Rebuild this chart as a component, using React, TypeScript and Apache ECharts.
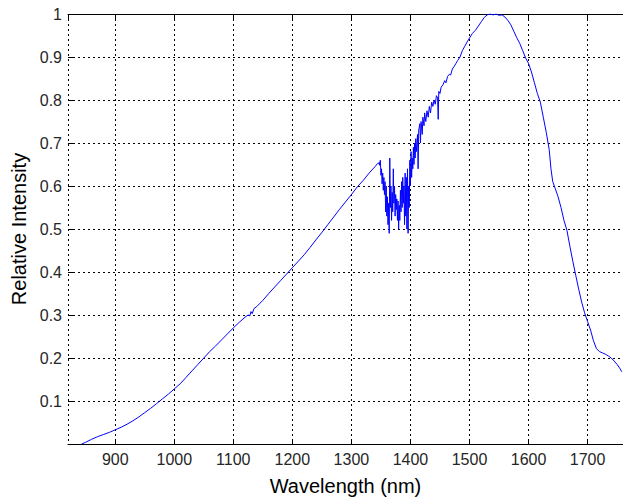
import React, { useEffect, useRef } from "react";
import * as echarts from "echarts";

const xAxisTitle = "Wavelength (nm)";
const yAxisTitle = "Relative Intensity";
const xRange = [820, 1760];
const yTickValues = [0.1, 0.2, 0.3, 0.4, 0.5, 0.6, 0.7, 0.8, 0.9, 1];

// smooth rising part
const wlRise = [843, 850, 860, 870, 880, 890, 900, 910, 920, 930, 940, 950, 960, 970, 980, 990, 1000, 1010, 1020, 1030, 1040, 1050, 1060, 1070, 1080, 1090, 1100, 1110, 1120, 1125, 1128, 1130, 1132, 1135, 1140, 1150, 1160, 1170, 1180, 1190, 1200, 1210, 1220, 1230, 1240, 1250, 1260, 1270, 1280, 1290, 1300, 1310, 1320, 1330, 1340, 1344];
const intRise = [0.0, 0.004, 0.011, 0.017, 0.022, 0.027, 0.033, 0.039, 0.046, 0.054, 0.063, 0.073, 0.083, 0.094, 0.105, 0.116, 0.128, 0.14, 0.155, 0.17, 0.185, 0.2, 0.215, 0.228, 0.242, 0.256, 0.27, 0.283, 0.295, 0.3, 0.298, 0.308, 0.303, 0.315, 0.32, 0.334, 0.35, 0.365, 0.38, 0.395, 0.41, 0.425, 0.44, 0.457, 0.475, 0.492, 0.51, 0.528, 0.546, 0.563, 0.58, 0.598, 0.613, 0.63, 0.645, 0.652];

// water absorption band (noisy)
const wlBand = [1346, 1347, 1348, 1349, 1350, 1351, 1352, 1353, 1354, 1355, 1356, 1357, 1358, 1359, 1360, 1361, 1362, 1363, 1364, 1365, 1366, 1367, 1368, 1369, 1370, 1371, 1372, 1373, 1374, 1375, 1376, 1377, 1378, 1379, 1380, 1381, 1382, 1383, 1384, 1385, 1386, 1387, 1388, 1389, 1390, 1391, 1392, 1393, 1394, 1395, 1396, 1397, 1398, 1399, 1400, 1401, 1402, 1403, 1404, 1405, 1406, 1407, 1408, 1409, 1410];
const intBand = [0.652, 0.655, 0.648, 0.66, 0.625, 0.64, 0.605, 0.63, 0.59, 0.62, 0.58, 0.61, 0.54, 0.6, 0.53, 0.575, 0.51, 0.56, 0.49, 0.665, 0.55, 0.6, 0.52, 0.585, 0.54, 0.64, 0.56, 0.6, 0.53, 0.58, 0.545, 0.57, 0.52, 0.565, 0.5, 0.555, 0.52, 0.59, 0.54, 0.61, 0.55, 0.62, 0.56, 0.6, 0.51, 0.63, 0.53, 0.62, 0.5, 0.64, 0.49, 0.6, 0.55, 0.66, 0.6, 0.68, 0.62, 0.665, 0.64, 0.69, 0.65, 0.7, 0.665, 0.71, 0.68];

// recovery towards the peak
const wlPeak = [1412, 1413, 1414, 1416, 1417, 1418, 1420, 1421, 1423, 1424, 1426, 1428, 1430, 1432, 1434, 1436, 1438, 1440, 1442, 1444, 1446, 1447, 1448, 1450, 1452, 1455, 1458, 1460, 1463, 1466, 1468, 1471, 1474, 1477, 1480, 1484, 1488, 1492, 1496, 1500, 1505, 1510, 1515, 1520, 1525, 1530, 1535, 1540, 1545, 1550, 1555, 1560];
const intPeak = [0.72, 0.64, 0.73, 0.745, 0.7, 0.75, 0.72, 0.76, 0.74, 0.77, 0.75, 0.775, 0.76, 0.785, 0.77, 0.795, 0.785, 0.8, 0.79, 0.81, 0.805, 0.755, 0.82, 0.815, 0.83, 0.835, 0.845, 0.84, 0.855, 0.86, 0.858, 0.872, 0.878, 0.885, 0.892, 0.9, 0.915, 0.925, 0.935, 0.944, 0.955, 0.962, 0.972, 0.982, 0.992, 0.998, 1.0, 0.998, 1.0, 0.997, 0.998, 0.993];

// falling part
const wlFall = [1565, 1570, 1575, 1580, 1585, 1590, 1595, 1600, 1605, 1610, 1615, 1620, 1625, 1630, 1635, 1638, 1641, 1645, 1650, 1655, 1660, 1665, 1670, 1675, 1680, 1685, 1690, 1695, 1700, 1705, 1710, 1715, 1720, 1725, 1730, 1735, 1740, 1745, 1750, 1755, 1758];
const intFall = [0.985, 0.975, 0.96, 0.945, 0.932, 0.915, 0.898, 0.885, 0.865, 0.84, 0.815, 0.795, 0.76, 0.725, 0.685, 0.64, 0.61, 0.595, 0.575, 0.55, 0.52, 0.497, 0.46, 0.425, 0.392, 0.36, 0.33, 0.305, 0.285, 0.265, 0.24, 0.222, 0.215, 0.212, 0.209, 0.205, 0.2, 0.193, 0.185, 0.175, 0.168];

const wavelength = [...wlRise, ...wlBand, ...wlPeak, ...wlFall];
const intensity = [...intRise, ...intBand, ...intPeak, ...intFall];

const FONT = "'Liberation Sans', Arial, sans-serif";
const DOT: number[] = [2, 3];

export default function App() {
  const ref = useRef<HTMLDivElement>(null);
  useEffect(() => {
    if (!ref.current) return;
    const chart = echarts.init(ref.current, undefined, { renderer: "svg" });
    const data = wavelength.map((w, i) => [w, intensity[i]]);
    chart.setOption({
      animation: false,
      backgroundColor: "#fff",
      grid: { left: 68, top: 14, right: 0, bottom: 54, containLabel: false },
      xAxis: [
        {
          type: "value",
          min: xRange[0],
          max: xRange[1],
          splitNumber: 9,
          position: "bottom",
          name: xAxisTitle,
          nameLocation: "middle",
          nameGap: 32,
          nameTextStyle: { fontFamily: FONT, fontSize: 20, color: "#000" },
          axisLine: { show: true, onZero: false, lineStyle: { color: "#000", width: 1 } },
          axisTick: { show: true, inside: true, length: 5, lineStyle: { color: "#000" } },
          axisLabel: {
            show: true,
            margin: 7,
            showMinLabel: false,
            showMaxLabel: false,
            fontFamily: FONT,
            fontSize: 16,
            color: "#262626",
            formatter: (v: number) => String(Math.round(v)),
          },
          splitLine: { show: true, lineStyle: { color: "#000", type: DOT, width: 1 } },
        },
        {
          type: "value",
          min: xRange[0],
          max: xRange[1],
          splitNumber: 9,
          position: "top",
          axisLine: { show: true, onZero: false, lineStyle: { color: "#000", width: 1 } },
          axisTick: { show: true, inside: true, length: 5, lineStyle: { color: "#000" } },
          axisLabel: { show: false },
          splitLine: { show: false },
        },
      ],
      yAxis: {
        type: "value",
        min: 0,
        max: 1,
        interval: 0.1,
        name: yAxisTitle,
        nameLocation: "middle",
        nameGap: 34,
        nameTextStyle: { fontFamily: FONT, fontSize: 20, color: "#000" },
        axisLine: { show: false },
        axisTick: { show: true, inside: true, length: 5, lineStyle: { color: "#000" } },
        axisLabel: {
          margin: 6,
          fontFamily: FONT,
          fontSize: 16,
          color: "#262626",
          formatter: (v: number) => {
            const hit = yTickValues.find((t) => Math.abs(t - v) < 1e-6);
            return hit === undefined ? "" : String(hit);
          },
        },
        splitLine: { show: true, lineStyle: { color: "#000", type: DOT, width: 1 } },
      },
      series: [
        {
          type: "line",
          data,
          xAxisIndex: 0,
          showSymbol: false,
          symbol: "none",
          lineStyle: { color: "#0000ff", width: 1 },
          clip: true,
        },
      ],
    });
    return () => chart.dispose();
  }, []);
  return (
    <div
      ref={ref}
      style={{ position: "absolute", left: 0, top: 0, width: 623, height: 501 }}
    />
  );
}
